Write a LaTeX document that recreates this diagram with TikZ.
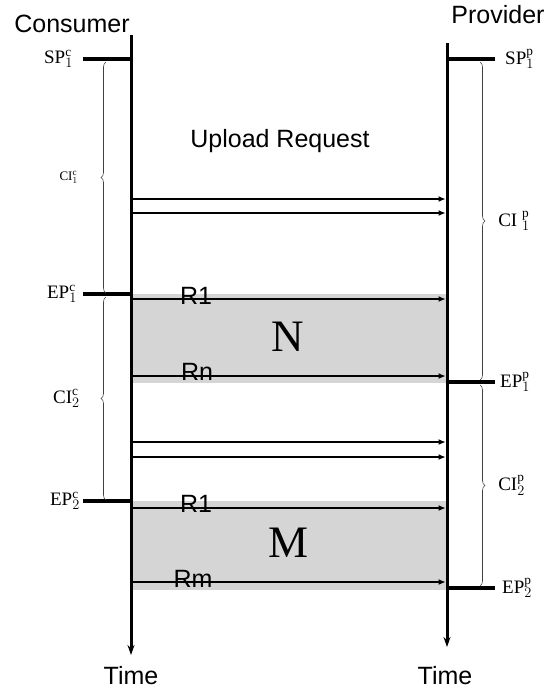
\documentclass[tikz,border=0pt]{standalone}
\usepackage{fontspec}
\setmainfont{Liberation Serif}
\setsansfont{Liberation Sans}
\usetikzlibrary{arrows.meta,decorations.pathreplacing,positioning}

\begin{document}
\begin{tikzpicture}[x=1pt,y=-1pt,
    lifeline/.style={line width=3pt,-{Stealth[length=10pt,width=7pt]}},
    tickline/.style={line width=3.5pt},
    msg/.style={line width=1.1pt,-{Latex[length=7pt,width=6pt]},shorten >=1.5pt},
    period/.style={draw=black!75,line width=0.6pt,decorate,decoration={brace,amplitude=5pt}},
    sanslbl/.style={font=\sffamily\fontsize{25}{29}\selectfont,anchor=base,inner sep=0pt},
    ptlbl/.style={font=\fontsize{19}{22}\selectfont,inner sep=0pt},
    batch/.style={fill=gray!33,draw=none}]
  \useasboundingbox (0,0) rectangle (550,689);

  % batches of requests
  \fill[batch] (131,294) rectangle (447,383);
  \fill[batch] (131,501) rectangle (447,590);

  % time lines
  \coordinate (ctop) at (131,35);
  \coordinate (cend) at (131,655);
  \coordinate (ptop) at (447,43);
  \coordinate (pend) at (447,647);
  \draw[lifeline] (ctop) -- (cend);
  \draw[lifeline] (ptop) -- (pend);
  \node[sanslbl] (cons) at (72,32) {Consumer};
  \node[sanslbl] (prov) at (498,23) {Provider};
  \node[sanslbl] (ctime) at (131,684) {Time};
  \node[sanslbl] (ptime) at (445,684) {Time};

  % consumer points
  \draw[tickline] (83,59) coordinate (spc) -- (spc -| ctop);
  \draw[tickline] (83,294) coordinate (ep1c) -- (ep1c -| ctop);
  \draw[tickline] (83,501) coordinate (ep2c) -- (ep2c -| ctop);
  \node[ptlbl,left=10pt of spc] (spclbl) {$\mathrm{SP}_{1}^{\mathrm{c}}$};
  \node[ptlbl,left=6pt of ep1c] (ep1clbl) {$\mathrm{EP}_{1}^{\mathrm{c}}$};
  \node[ptlbl,left=3pt of ep2c] (ep2clbl) {$\mathrm{EP}_{2}^{\mathrm{c}}$};
  \draw[period] (106,293) -- (106,62)
    node[midway,left=28pt,ptlbl,font=\fontsize{13}{15}\selectfont] (ci1c) {$\mathrm{CI}_{1}^{\mathrm{c}}$};
  \draw[period] (106,500) -- (106,297)
    node[midway,left=26pt,ptlbl] (ci2c) {$\mathrm{CI}_{2}^{\mathrm{c}}$};

  % provider points
  \draw[tickline] (495,59) coordinate (spp) -- (spp -| ptop);
  \draw[tickline] (495,382) coordinate (ep1p) -- (ep1p -| ptop);
  \draw[tickline] (495,588) coordinate (ep2p) -- (ep2p -| ptop);
  \node[ptlbl,right=10pt of spp] (spplbl) {$\mathrm{SP}_{1}^{\mathrm{p}}$};
  \node[ptlbl,right=5pt of ep1p] (ep1plbl) {$\mathrm{EP}_{1}^{\mathrm{p}}$};
  \node[ptlbl,right=7pt of ep2p] (ep2plbl) {$\mathrm{EP}_{2}^{\mathrm{p}}$};
  \draw[period] (480,62) -- (480,380)
    node[midway,right=18pt,ptlbl] (ci1p) {$\mathrm{CI}\;{}_{1}^{\mathrm{p}}$};
  \draw[period] (480,385) -- (480,586)
    node[midway,right=18pt,ptlbl] (ci2p) {$\mathrm{CI}_{2}^{\mathrm{p}}$};

  % upload requests
  \node[sanslbl] (upload) at (280,147) {Upload Request};
  \foreach \y in {199,213,442,457}
    \draw[msg] (131,\y) coordinate (u) -- (u -| ptop);
  \draw[msg] (131,299) coordinate (r1n) -- (r1n -| ptop);
  \draw[msg] (131,376) coordinate (rn) -- (rn -| ptop);
  \draw[msg] (131,508) coordinate (r1m) -- (r1m -| ptop);
  \draw[msg] (131,582) coordinate (rm) -- (rm -| ptop);
  \node[sanslbl] (r1nlbl) at (196,304) {R1};
  \node[sanslbl] (rnlbl) at (197,380) {Rn};
  \node[sanslbl] (r1mlbl) at (196,512) {R1};
  \node[sanslbl] (rmlbl) at (193,587) {Rm};
  \node[font=\fontsize{45}{50}\selectfont] (nbatch) at (288,337) {N};
  \node[font=\fontsize{45}{50}\selectfont] (mbatch) at (289,543) {M};
\end{tikzpicture}
\end{document}
